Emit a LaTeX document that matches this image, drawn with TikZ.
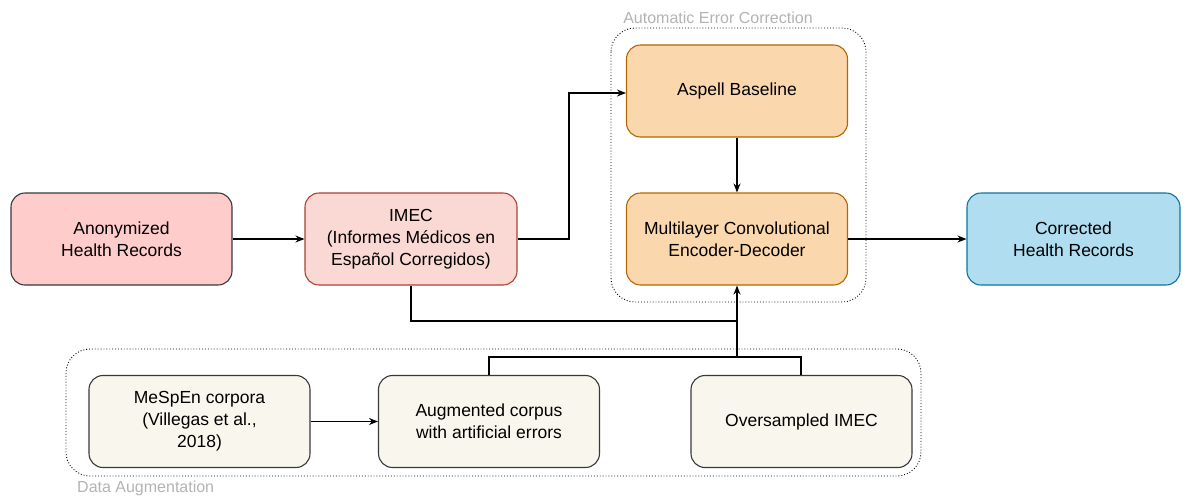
\documentclass[tikz,border=0pt]{standalone}
\usepackage{fontspec}
\setmainfont{Liberation Sans}
\usetikzlibrary{arrows.meta}
\definecolor{redf}{HTML}{FFCCCC}
\definecolor{reds}{HTML}{36393D}
\definecolor{imecf}{HTML}{FAD9D5}
\definecolor{imecs}{HTML}{AE4132}
\definecolor{orf}{HTML}{FAD7AC}
\definecolor{ors}{HTML}{B46504}
\definecolor{bluef}{HTML}{B1DDF0}
\definecolor{blues}{HTML}{10739E}
\definecolor{begf}{HTML}{F9F7ED}
\definecolor{begs}{HTML}{36393D}
\definecolor{grouplbl}{HTML}{B3B3B3}
\begin{document}
\begin{tikzpicture}[x=1pt,y=-1pt,
  box/.style={draw, rounded corners=14pt, line width=1.1pt, align=center, inner sep=0pt,
    minimum width=221pt, minimum height=92pt, font=\fontsize{17.5}{22}\selectfont},
  smallbox/.style={box, minimum width=212pt},
  grp/.style={draw=black, dotted, line width=0.9pt, rounded corners=24pt},
  glabel/.style={text=grouplbl, font=\fontsize{16}{19}\selectfont, inner sep=0pt},
  conn/.style={line width=1.2pt, -{Stealth[length=9pt,width=7pt]}},
  line/.style={line width=1.2pt}]
\useasboundingbox (0,0) rectangle (1183,496);
% groups
\draw[grp] (611,28) rectangle (866,302);
\node[glabel] (aecl) at (718,18) {Automatic Error Correction};
\draw[grp] (66,349) rectangle (921,476);
\node[glabel, anchor=west] (dal) at (77,488) {Data Augmentation};
% nodes
\node[box, fill=redf, draw=reds] (anon) at (121.5,239) {Anonymized\\Health Records};
\node[smallbox, fill=imecf, draw=imecs] (imec) at (411,239) {IMEC\\(Informes Médicos en\\Español Corregidos)};
\node[box, fill=orf, draw=ors] (aspell) at (737,91) {Aspell Baseline};
\node[box, fill=orf, draw=ors] (mlc) at (737,239) {Multilayer Convolutional\\Encoder-Decoder};
\node[smallbox, minimum width=213pt, fill=bluef, draw=blues] (corr) at (1073.5,239) {Corrected\\Health Records};
\node[box, fill=begf, draw=begs] (mes) at (199.5,421.5) {MeSpEn corpora\\(Villegas et al.,\\2018)};
\node[box, fill=begf, draw=begs] (aug) at (489,421.5) {Augmented corpus\\with artificial errors};
\node[box, fill=begf, draw=begs] (over) at (801.5,421.5) {Oversampled IMEC};
% connectors
\coordinate (j1) at (569,239);
\coordinate (j2) at (569,93);
\coordinate (j3) at (411,321);
\coordinate (j4) at (737,321);
\coordinate (j5) at (489,357);
\coordinate (j6) at (801,357);
\coordinate (j7) at (737,357);
\draw[conn] (anon.east) -- (imec.west);
\draw[conn] (imec.east) -- (j1) -- (j2) -- (aspell.west |- j2);
\draw[conn] (aspell.south) -- (mlc.north);
\draw[conn] (mlc.east) -- (corr.west);
\draw[conn] (imec.south) -- (j3) -- (j4) -- (mlc.south);
\draw[line] (aug.north -| j5) -- (j5) -- (j6) -- (over.north -| j6);
\draw[line] (j7) -- (j4);
\draw[conn] (mes.east) -- (aug.west);
\end{tikzpicture}
\end{document}
